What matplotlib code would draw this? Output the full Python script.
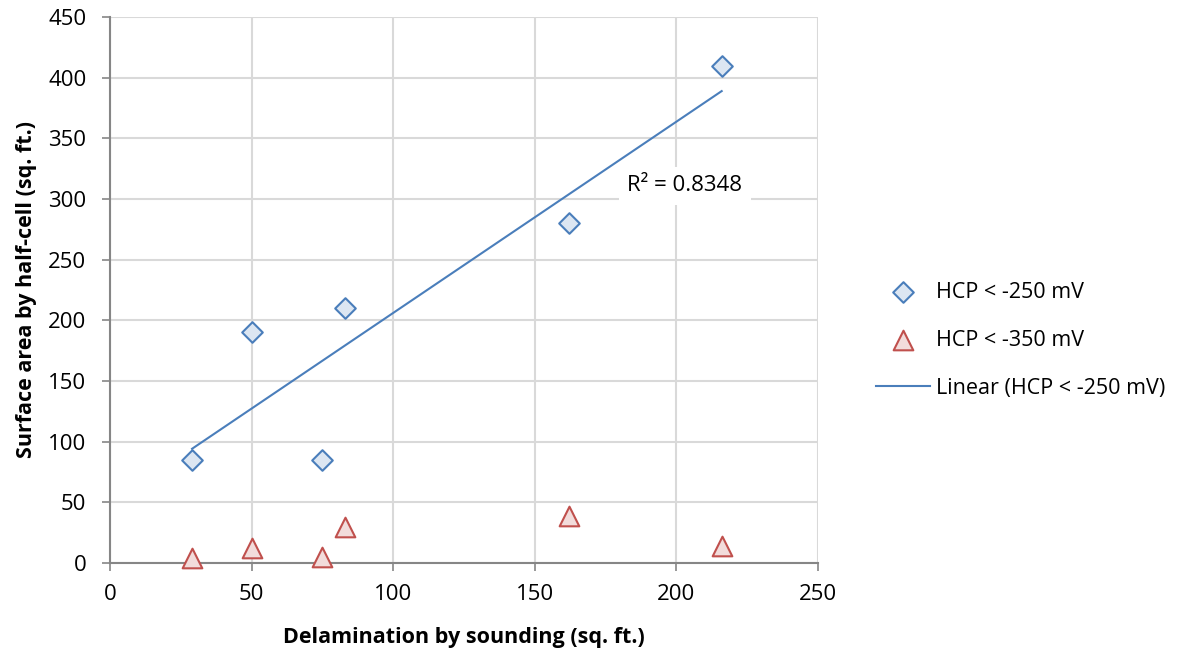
import numpy as np
import matplotlib.pyplot as plt

# Delamination by sounding vs half-cell surface area (sq. ft.)
delam = [29, 50, 75, 83, 162, 216]
hcp_250 = [85, 190, 85, 210, 280, 410]
hcp_350 = [4, 12, 5, 30, 39, 14]
r2_label = 'R² = 0.8348'

plt.rcParams['font.family'] = ['Open Sans', 'DejaVu Sans']

fig = plt.figure(figsize=(11.95, 6.58), dpi=100)
ax = fig.add_axes([0.092, 0.1444, 0.5925, 0.8298])

# linear trendline for the -250 mV series
slope, icpt = np.polyfit(delam, hcp_250, 1)
xs = np.array([min(delam), max(delam)])

ax.scatter(delam, hcp_250, marker='D', s=110, facecolor='#dce6f2',
           edgecolor='#4a7ebb', linewidth=1.5, zorder=3, clip_on=False,
           label='HCP < -250 mV')
ax.scatter(delam, hcp_350, marker='^', s=200, facecolor='#f2dcdb',
           edgecolor='#c0504d', linewidth=1.5, zorder=3, clip_on=False,
           label='HCP < -350 mV')
ax.plot(xs, slope * xs + icpt, color='#4a7ebb', lw=1.5, zorder=2,
        label='Linear (HCP < -250 mV)')

ax.text(203, 311, r2_label, fontsize=16, ha='center', va='center', zorder=4,
        bbox=dict(facecolor='white', edgecolor='none', pad=6))

ax.set_xlim(0, 250)
ax.set_ylim(0, 450)
ax.set_xticks(range(0, 251, 50))
ax.set_yticks(range(0, 451, 50))
ax.grid(True, color='#d9d9d9', lw=1.5)
ax.set_axisbelow(True)
for s in ['top', 'right']:
    ax.spines[s].set_visible(False)
for s in ['left', 'bottom']:
    ax.spines[s].set_color('#868686')
    ax.spines[s].set_linewidth(1.5)
ax.tick_params(colors='#868686', labelcolor='black', labelsize=16,
               length=6, width=1.2)
ax.tick_params(axis='x', pad=9)
ax.tick_params(axis='y', pad=11)

ax.set_xlabel('Delamination by sounding (sq. ft.)', fontsize=15.5,
              fontweight='bold', labelpad=16)
ax.set_ylabel('Surface area by half-cell (sq. ft.)', fontsize=15.5,
              fontweight='bold', labelpad=8)

fig.legend(loc='center left', bbox_to_anchor=(0.717, 0.483), frameon=False,
           fontsize=15.5, labelspacing=1.25, handlelength=2.5, handletextpad=0.3)

plt.savefig('out.png', dpi=100)
